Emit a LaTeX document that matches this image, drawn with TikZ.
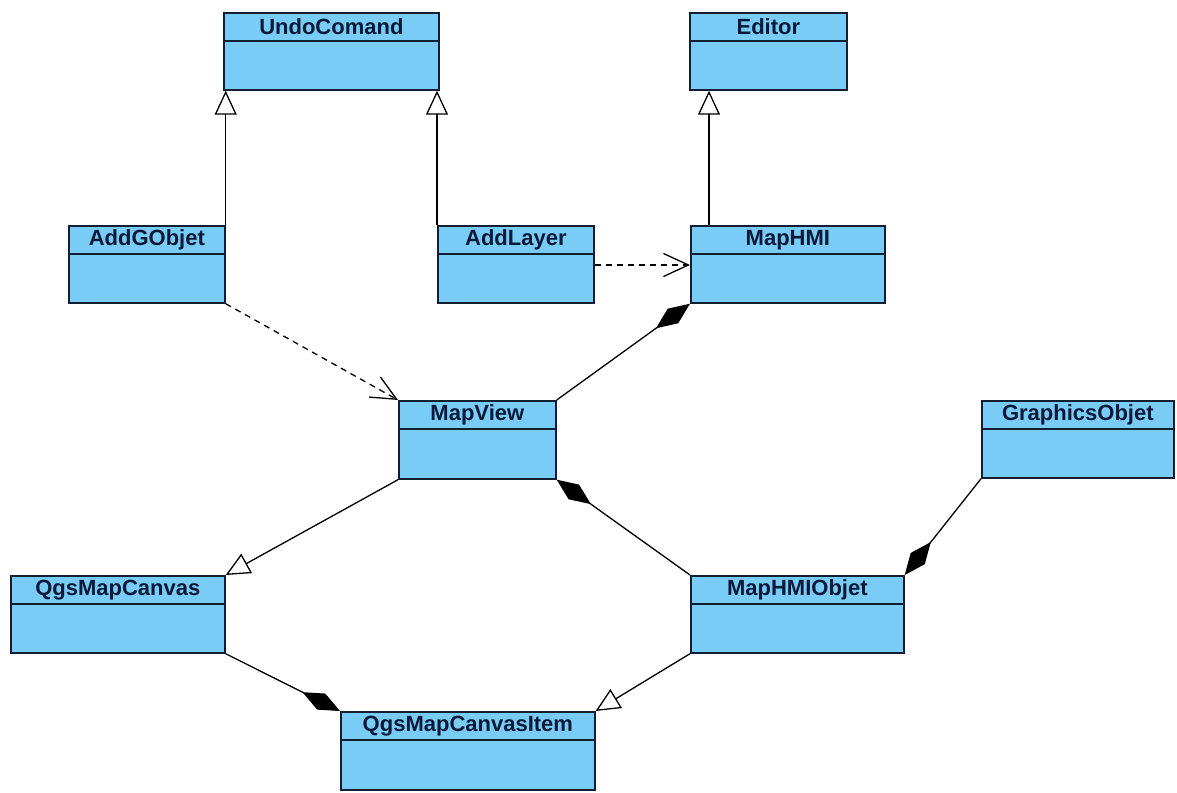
\documentclass[tikz,border=0pt]{standalone}
\usepackage{fontspec}
\setmainfont{Liberation Sans}
\usetikzlibrary{arrows.meta,calc}
\definecolor{clsfill}{RGB}{120,204,246}
\definecolor{clsline}{RGB}{20,30,50}
\definecolor{clstext}{RGB}{10,25,55}
\tikzset{
  classbox/.style={draw=clsline, fill=clsfill, line width=1.7pt, inner sep=0pt, anchor=north west},
  classtitle/.style={font=\fontsize{22}{25}\selectfont\bfseries, text=clstext, inner sep=0pt},
  conn/.style={line width=1.3pt, draw=black},
  inherit/.style={conn, -{Triangle[open, length=24pt, width=22pt, fill=white]}},
  depend/.style={conn, dash pattern=on 6pt off 5pt, -{Straight Barb[length=25pt, width=23pt]}},
  compose/.style={conn, {Diamond[length=42pt, width=18pt]}-}
}
\newcommand\umlclass[6]{%
  \node[classbox, minimum width=#4pt, minimum height=#5pt] (#1) at (#2pt,-#3pt) {};
  \draw[clsline, line width=1.6pt] ($(#1.north west)+(0pt,-29pt)$) -- ($(#1.north east)+(0pt,-29pt)$);
  \node[classtitle] (#1-title) at ($(#1.north)+(0pt,-15pt)$) {#6};
}
\begin{document}
\begin{tikzpicture}
\fill[white] (0pt,0pt) rectangle (1177pt,-792pt);
\useasboundingbox (0pt,0pt) rectangle (1177pt,-792pt);

\umlclass{undo}{223}{12}{215}{77}{UndoComand}
\umlclass{editor}{689}{12}{157}{77}{Editor}
\umlclass{addg}{68}{225}{156}{77}{AddGObjet}
\umlclass{addl}{437}{225}{156}{77}{AddLayer}
\umlclass{maphmi}{690}{225}{194}{77}{MapHMI}
\umlclass{mapview}{398}{400}{157}{78}{MapView}
\umlclass{graphics}{981}{400}{192}{77}{GraphicsObjet}
\umlclass{canvas}{10}{575}{214}{77}{QgsMapCanvas}
\umlclass{hmiobj}{690}{575}{213}{77}{MapHMIObjet}
\umlclass{item}{340}{711}{254}{78}{QgsMapCanvasItem}

\coordinate (hmitop) at ($(maphmi.north west)+(19pt,0pt)$);
\coordinate (dl) at ($(addl.north east)+(0pt,-40pt)$);

\draw[inherit] (addg.north east) -- (addg.north east |- undo.south);
\draw[inherit] (addl.north west) -- (addl.north west |- undo.south);
\draw[inherit] (hmitop) -- (hmitop |- editor.south);
\draw[depend] (dl) -- (dl -| maphmi.west);
\draw[depend] (addg.south east) -- (mapview.north west);
\draw[compose] (maphmi.south west) -- (mapview.north east);
\draw[compose] (mapview.south east) -- (hmiobj.north west);
\draw[compose] (hmiobj.north east) -- (graphics.south west);
\draw[inherit] (mapview.south west) -- (canvas.north east);
\draw[compose] (item.north west) -- (canvas.south east);
\draw[inherit] (hmiobj.south west) -- (item.north east);
\end{tikzpicture}
\end{document}
